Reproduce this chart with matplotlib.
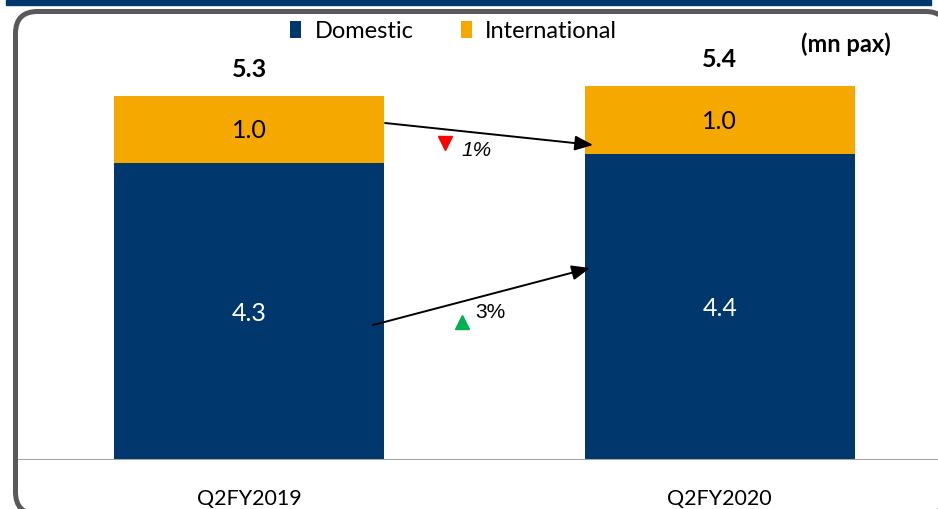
import matplotlib.pyplot as plt
from matplotlib.patches import FancyBboxPatch, Rectangle
from matplotlib.transforms import IdentityTransform

plt.rcParams['font.family'] = ['Lato', 'DejaVu Sans']

periods = ["Q2FY2019", "Q2FY2020"]
domestic = [4.30, 4.43]
international = [0.97, 0.98]
series_names = ["Domestic", "International"]
changes = ["1%", "3%"]          # international, domestic
unit_label = "(mn pax)"

NAVY = "#00386e"
ORANGE = "#f5a800"

fig = plt.figure(figsize=(9.38, 5.09), dpi=100)
W, H = 938, 509

# top band and rounded frame (pixel coordinates, origin bottom-left)
px = IdentityTransform()
fig.patches.append(Rectangle((6, H - 5), 925, 6, transform=px, color=NAVY, zorder=-2))
fig.patches.append(FancyBboxPatch((15.5, -5), 932, 502.5,
                                  boxstyle="round,pad=0,rounding_size=22",
                                  transform=px, facecolor="white",
                                  edgecolor="#595959", linewidth=3.6, zorder=-1))

ax = fig.add_axes([18 / W, 49 / H, 920 / W, 448 / H], zorder=1)
ax.set_facecolor("none")
x = list(range(len(periods)))
width = 0.574
ax.bar(x, domestic, width, color=NAVY, label=series_names[0], zorder=2)
ax.bar(x, international, width, bottom=domestic, color=ORANGE, label=series_names[1], zorder=2)
ax.set_xlim(-0.4913, 1.464)
ax.set_ylim(0, 6.48)
for s in ax.spines.values():
    s.set_visible(False)
ax.axhline(0, color="#a6a6a6", linewidth=1.5, zorder=3)
ax.set_yticks([])
ax.set_xticks(x)
ax.set_xticklabels(periods, fontsize=15.5)
ax.tick_params(axis="x", length=0, pad=21)

for i in x:
    d, it = domestic[i], international[i]
    ax.text(i, d / 2 - 0.03, f"{d:.1f}", ha="center", va="center", color="white", fontsize=18, zorder=4)
    ax.text(i, d + it / 2 - 0.02, f"{it:.1f}", ha="center", va="center", color="black", fontsize=18, zorder=4)
    ax.text(i, d + it + 0.38, f"{d + it:.1f}", ha="center", va="center", color="black",
            fontsize=18, fontweight="bold", zorder=4)


def px_x(v):
    return (v - 20) / 470.5 - 0.487


def px_y(v):
    return (460 - v) / (448 / 6.48)


# change arrows between bars
arrow = dict(arrowstyle="-|>,head_length=1.1,head_width=0.45", color="black",
             lw=1.4, shrinkA=0, shrinkB=0)
ax.annotate("", xy=(px_x(593), px_y(145)), xytext=(px_x(385), px_y(123)),
            arrowprops=arrow, zorder=5)
ax.annotate("", xy=(px_x(590), px_y(268)), xytext=(px_x(373), px_y(325)),
            arrowprops=arrow, zorder=5)

ax.plot([px_x(445)], [px_y(143)], marker="v", color="#ff0000", markersize=10,
        linestyle="none", zorder=5)
ax.text(px_x(461), px_y(151), changes[0], fontsize=15, style="italic",
        ha="left", va="center", family=["Liberation Sans", "DejaVu Sans"], zorder=5)
ax.plot([px_x(462)], [px_y(322)], marker="^", color="#00b050", markersize=10,
        linestyle="none", zorder=5)
ax.text(px_x(475), px_y(313), changes[1], fontsize=15,
        ha="left", va="center", family=["Liberation Sans", "DejaVu Sans"], zorder=5)

leg = fig.legend(loc="center", bbox_to_anchor=(453.5 / W, 1 - 31 / H), ncol=2, frameon=False,
                 fontsize=17, handlelength=0.5, handleheight=0.75, handletextpad=0.55,
                 columnspacing=2.0, borderaxespad=0)
fig.text(846 / W, 1 - 44 / H, unit_label, ha="center", va="center", fontsize=17,
         fontweight="bold")

fig.savefig("out.png", dpi=100)
